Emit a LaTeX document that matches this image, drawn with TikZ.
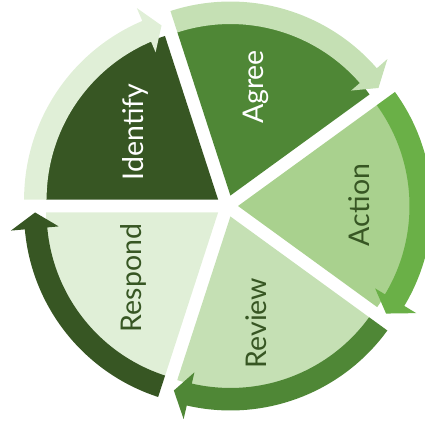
\documentclass[tikz,border=0pt]{standalone}
\usepackage{fontspec}
\setmainfont{Lato}
\usetikzlibrary{shapes.geometric, arrows, positioning}

\definecolor{green_one}{HTML}{375623}
\definecolor{green_two}{HTML}{4F8736}
\definecolor{green_three}{HTML}{6AB047}
\definecolor{green_four}{HTML}{A9D18E}
\definecolor{green_five}{HTML}{C5E0B4}
\definecolor{green_six}{HTML}{E0EFD7}

\begin{document}
\begin{tikzpicture}[x=1pt, y=1pt]
% Page frame, the ring runs off the right side
\clip (-227,-217) rectangle (198,206);
% How to define the slices and labels
\tikzstyle{white_label} = [rotate=90, text=white, font=\fontsize{28.5}{34}\selectfont]
\tikzstyle{green_label} = [rotate=90, text=green_one, font=\fontsize{28.5}{34}\selectfont]
% Slices, each pushed out a little along its middle
\fill [green_one, shift={(144:11)}] (0,0) -- (180:172) arc[start angle=180, end angle=108, radius=172] -- cycle;
\fill [green_two, shift={(72:11)}] (0,0) -- (108:172) arc[start angle=108, end angle=36, radius=172] -- cycle;
\fill [green_four, shift={(0:11)}] (0,0) -- (36:172) arc[start angle=36, end angle=-36, radius=172] -- cycle;
\fill [green_five, shift={(-72:11)}] (0,0) -- (-36:172) arc[start angle=-36, end angle=-108, radius=172] -- cycle;
\fill [green_six, shift={(-144:11)}] (0,0) -- (-108:172) arc[start angle=-108, end angle=-180, radius=172] -- cycle;

% Curved arrows round the outside
\fill [green_six, shift={(144:11)}] (180:194) arc[start angle=180, end angle=113, radius=194] -- (113:208) -- (108:183) -- (113:160) -- (113:171.5) arc[start angle=113, end angle=180, radius=171.5] -- cycle;
\fill [green_five, shift={(72:11)}] (108:194) arc[start angle=108, end angle=41, radius=194] -- (41:208) -- (36:183) -- (41:160) -- (41:171.5) arc[start angle=41, end angle=108, radius=171.5] -- cycle;
\fill [green_three, shift={(0:11)}] (36:194) arc[start angle=36, end angle=-31, radius=194] -- (-31:208) -- (-36:183) -- (-31:160) -- (-31:171.5) arc[start angle=-31, end angle=36, radius=171.5] -- cycle;
\fill [green_two, shift={(-72:11)}] (-36:194) arc[start angle=-36, end angle=-103, radius=194] -- (-103:208) -- (-108:183) -- (-103:160) -- (-103:171.5) arc[start angle=-103, end angle=-36, radius=171.5] -- cycle;
\fill [green_one, shift={(-144:11)}] (-108:194) arc[start angle=-108, end angle=-175, radius=194] -- (-175:208) -- (-180:183) -- (-175:160) -- (-175:171.5) arc[start angle=-175, end angle=-108, radius=171.5] -- cycle;

% Labels
\node (identify) [white_label] at (-92,74) {Identify};
\node (agree) [white_label] at (29,119) {Agree};
\node (action) [green_label] at (132,1) {Action};
\node (review) [green_label] at (29,-117) {Review};
\node (respond) [green_label] at (-94,-72) {Respond};
\end{tikzpicture}
\end{document}
